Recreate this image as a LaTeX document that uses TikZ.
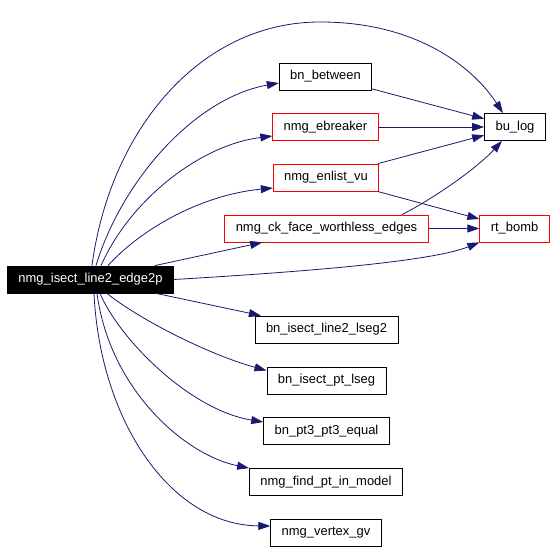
\documentclass[tikz,border=0pt]{standalone}
\usepackage{fontspec}
\setmainfont{Liberation Sans}
\usetikzlibrary{arrows.meta}
\definecolor{edgeblue}{HTML}{191970}

\begin{document}
\begin{tikzpicture}[x=1bp, y=-1bp,
  every node/.style={rectangle, draw, line width=0.8bp, minimum height=27bp, inner xsep=11bp, font=\fontsize{13}{15}\selectfont},
  redbox/.style={draw=red},
  rootbox/.style={fill=black, text=white},
  call/.style={edgeblue, line width=0.8bp, -{Triangle[length=12bp,width=8bp]}}]
  \useasboundingbox (0,0) rectangle (555,551);

  \node[rootbox] (isect) at (90.5,279.5) {nmg\_isect\_line2\_edge2p};
  \node (between) at (325.5,76.5) {bn\_between};
  \node[redbox] (ebreaker) at (325.5,127) {nmg\_ebreaker};
  \node (bulog) at (515,127) {bu\_log};
  \node[redbox] (enlist) at (326,177.5) {nmg\_enlist\_vu};
  \node[redbox] (ckface) at (326.5,228.5) {nmg\_ck\_face\_worthless\_edges};
  \node[redbox] (rtbomb) at (514.5,228.5) {rt\_bomb};
  \node (lseg2) at (326.5,329.5) {bn\_isect\_line2\_lseg2};
  \node (ptlseg) at (326.5,380.5) {bn\_isect\_pt\_lseg};
  \node (pt3) at (326.5,431) {bn\_pt3\_pt3\_equal};
  \node (findpt) at (326,482) {nmg\_find\_pt\_in\_model};
  \node (vertexgv) at (326,532.5) {nmg\_vertex\_gv};

  % calls going up
  \draw[call] ([xshift=1.5bp]isect.north) .. controls (110,130) and (200,22) .. (320,22) .. controls (420,22) and (475,70) .. ([xshift=-12bp]bulog.north);
  \draw[call] ([xshift=5.5bp]isect.north) .. controls (122,180) and (195,98) .. ([yshift=-6.5bp]between.west);
  \draw[call] ([xshift=10.5bp]isect.north) .. controls (130,200) and (200,145) .. ([yshift=-9bp]ebreaker.west);
  \draw[call] ([xshift=17.5bp]isect.north) .. controls (140,230) and (200,195) .. ([yshift=-10.5bp]enlist.west);
  \draw[call] (isect) -- (ckface);
  \draw[call] (isect.east) .. controls (300,272) and (430,262) .. (rtbomb.south west);

  % calls going down
  \draw[call] (isect) -- (lseg2);
  \draw[call] ([xshift=16.5bp]isect.south) .. controls (140,320) and (210,355) .. ([yshift=10bp]ptlseg.west);
  \draw[call] ([xshift=9.5bp]isect.south) .. controls (120,340) and (190,410) .. ([yshift=9bp]pt3.west);
  \draw[call] ([xshift=6.5bp]isect.south) .. controls (110,390) and (185,455) .. (findpt.north west);
  \draw[call] ([xshift=3.5bp]isect.south) .. controls (100,420) and (170,525) .. ([yshift=6.5bp]vertexgv.west);

  % second level
  \draw[call] (between) -- (bulog);
  \draw[call] (ebreaker) -- (bulog);
  \draw[call] (enlist) -- (bulog);
  \draw[call] (enlist) -- (rtbomb);
  \draw[call] ([xshift=75.5bp]ckface.north) .. controls (440,195) and (480,165) .. ([xshift=-13bp]bulog.south);
  \draw[call] (ckface) -- (rtbomb);
\end{tikzpicture}
\end{document}
